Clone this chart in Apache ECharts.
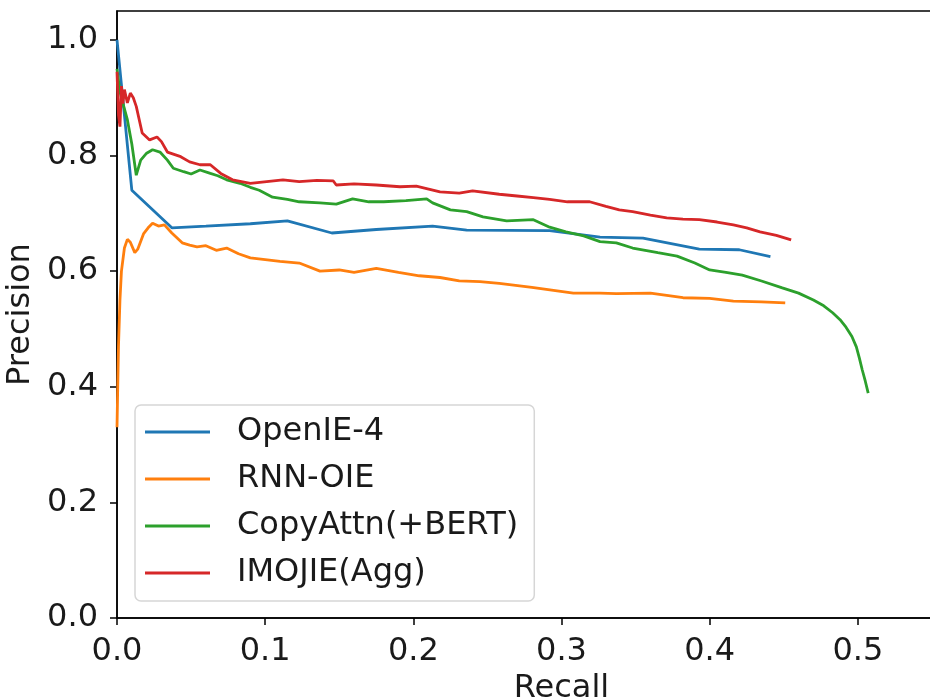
<!DOCTYPE html>
<html>
<head>
<meta charset="utf-8">
<script src="https://cdn.jsdelivr.net/npm/echarts@6/dist/echarts.min.js"></script>
<style>
  html, body { margin: 0; padding: 0; background: #fff; }
  #chart { width: 930px; height: 698px; }
</style>
</head>
<body>
<div id="chart"></div>
<script>
  // series names
  var seriesNames = ['OpenIE-4', 'RNN-OIE', 'CopyAttn(+BERT)', 'IMOJIE(Agg)'];

  // OpenIE-4
  var openieRecall = [0, 0.010, 0.037, 0.06, 0.09, 0.115, 0.145, 0.175, 0.213, 0.236, 0.292, 0.326, 0.355, 0.393, 0.42, 0.441];
  var openiePrecision = [1.0, 0.74, 0.675, 0.678, 0.682, 0.687, 0.666, 0.672, 0.678, 0.671, 0.670, 0.659, 0.657, 0.638, 0.637, 0.625];

  // RNN-OIE
  var rnnRecall = [0, 0.001, 0.002, 0.003, 0.005, 0.007, 0.009, 0.012, 0.014, 0.018, 0.021, 0.024, 0.028, 0.032, 0.037, 0.044, 0.049, 0.054, 0.060, 0.067, 0.074, 0.082, 0.09, 0.1, 0.11, 0.123, 0.137, 0.15, 0.16, 0.175, 0.19, 0.204, 0.218, 0.231, 0.245, 0.258, 0.28, 0.308, 0.326, 0.337, 0.36, 0.382, 0.4, 0.416, 0.435, 0.451];
  var rnnPrecision = [0.33, 0.47, 0.55, 0.60, 0.64, 0.655, 0.65, 0.632, 0.638, 0.665, 0.675, 0.683, 0.678, 0.68, 0.666, 0.649, 0.645, 0.642, 0.644, 0.636, 0.64, 0.63, 0.623, 0.62, 0.617, 0.614, 0.60, 0.602, 0.598, 0.605, 0.598, 0.592, 0.589, 0.583, 0.582, 0.579, 0.572, 0.562, 0.562, 0.561, 0.562, 0.554, 0.553, 0.548, 0.547, 0.545];

  // CopyAttn(+BERT)
  var copyRecall = [0, 0.002, 0.004, 0.007, 0.01, 0.013, 0.016, 0.02, 0.024, 0.029, 0.034, 0.038, 0.045, 0.05, 0.056, 0.063, 0.068, 0.074, 0.083, 0.09, 0.096, 0.105, 0.115, 0.123, 0.137, 0.148, 0.159, 0.17, 0.18, 0.195, 0.209, 0.213, 0.225, 0.236, 0.247, 0.263, 0.281, 0.292, 0.303, 0.315, 0.326, 0.337, 0.348, 0.365, 0.378, 0.39, 0.4, 0.411, 0.422, 0.435, 0.449, 0.46, 0.47, 0.477, 0.483, 0.488, 0.492, 0.496, 0.499, 0.501, 0.503, 0.505, 0.507];
  var copyPrecision = [0.95, 0.91, 0.89, 0.862, 0.82, 0.766, 0.792, 0.804, 0.81, 0.806, 0.792, 0.778, 0.772, 0.768, 0.775, 0.769, 0.765, 0.758, 0.752, 0.745, 0.74, 0.728, 0.724, 0.72, 0.718, 0.716, 0.725, 0.72, 0.72, 0.722, 0.725, 0.718, 0.706, 0.703, 0.694, 0.687, 0.689, 0.676, 0.668, 0.661, 0.651, 0.649, 0.64, 0.632, 0.626, 0.614, 0.602, 0.598, 0.593, 0.583, 0.571, 0.562, 0.55, 0.54, 0.528, 0.516, 0.503, 0.487, 0.469, 0.45, 0.429, 0.41, 0.389];

  // IMOJIE(Agg)
  var imojieRecall = [0, 0.001, 0.002, 0.003, 0.004, 0.005, 0.007, 0.009, 0.011, 0.013, 0.017, 0.022, 0.027, 0.03, 0.034, 0.043, 0.049, 0.056, 0.063, 0.07, 0.078, 0.09, 0.101, 0.112, 0.123, 0.135, 0.146, 0.148, 0.16, 0.175, 0.191, 0.202, 0.218, 0.231, 0.24, 0.258, 0.27, 0.281, 0.292, 0.304, 0.319, 0.33, 0.339, 0.348, 0.36, 0.371, 0.382, 0.393, 0.405, 0.416, 0.425, 0.434, 0.445, 0.455];
  var imojiePrecision = [0.945, 0.87, 0.85, 0.92, 0.89, 0.914, 0.891, 0.908, 0.9, 0.885, 0.839, 0.827, 0.832, 0.824, 0.806, 0.798, 0.789, 0.784, 0.784, 0.769, 0.758, 0.752, 0.755, 0.758, 0.755, 0.757, 0.756, 0.749, 0.751, 0.749, 0.746, 0.747, 0.737, 0.735, 0.739, 0.733, 0.73, 0.727, 0.724, 0.72, 0.72, 0.712, 0.706, 0.703, 0.697, 0.692, 0.69, 0.689, 0.685, 0.68, 0.675, 0.668, 0.662, 0.654];

  var colors = ['#1f77b4', '#ff7f0e', '#2ca02c', '#d62728'];

  function pairs(xs, ys) {
    var out = [];
    for (var i = 0; i < xs.length; i++) out.push([xs[i], ys[i]]);
    return out;
  }

  var allData = [
    pairs(openieRecall, openiePrecision),
    pairs(rnnRecall, rnnPrecision),
    pairs(copyRecall, copyPrecision),
    pairs(imojieRecall, imojiePrecision)
  ];

  var font = 'DejaVu Sans';
  var myChart = echarts.init(document.getElementById('chart'));
  myChart.setOption({
    animation: false,
    color: colors,
    grid: {
      left: 117,
      top: 11,
      width: 889,   // x axis runs past the right edge of the picture
      height: 607,
      outerBoundsMode: 'none',
      show: true,
      borderColor: '#000',
      borderWidth: 1.5,
      backgroundColor: '#fff'
    },
    legend: {
      orient: 'vertical',
      left: 135,
      top: 405,
      data: seriesNames,
      icon: 'rect',
      itemWidth: 65,
      itemHeight: 3,
      itemGap: 15,
      padding: [11, 16, 12, 10],
      backgroundColor: 'rgba(255,255,255,0.8)',
      borderColor: '#d6d6d6',
      borderWidth: 1.5,
      borderRadius: 6,
      textStyle: {
        fontFamily: font,
        fontSize: 32,
        color: '#1a1a1a',
        padding: [0, 0, 0, 22]
      }
    },
    xAxis: {
      type: 'value',
      min: 0,
      max: 0.6,
      interval: 0.1,
      name: 'Recall',
      nameLocation: 'middle',
      nameGap: 52,
      nameTextStyle: { fontFamily: font, fontSize: 32, color: '#1a1a1a' },
      axisLine: { lineStyle: { color: '#000', width: 1.5 } },
      axisTick: { show: true, length: 7, lineStyle: { color: '#000', width: 1.5 } },
      axisLabel: {
        fontFamily: font, fontSize: 32, color: '#1a1a1a', margin: 18,
        formatter: function (v) { return v.toFixed(1); }
      },
      splitLine: { show: false }
    },
    yAxis: {
      type: 'value',
      min: 0,
      max: 1.05,
      interval: 0.2,
      name: 'Precision',
      nameLocation: 'middle',
      nameGap: 69,
      nameTextStyle: { fontFamily: font, fontSize: 32, color: '#1a1a1a' },
      axisLine: { lineStyle: { color: '#000', width: 1.5 } },
      axisTick: { show: true, length: 7, lineStyle: { color: '#000', width: 1.5 } },
      axisLabel: {
        fontFamily: font, fontSize: 32, color: '#1a1a1a', margin: 19,
        formatter: function (v) { return v.toFixed(1); }
      },
      splitLine: { show: false }
    },
    series: seriesNames.map(function (name, i) {
      return {
        name: name,
        type: 'line',
        data: allData[i],
        showSymbol: false,
        symbol: 'none',
        lineStyle: { width: 2.8, color: colors[i] },
        itemStyle: { color: colors[i] }
      };
    })
  });
</script>
</body>
</html>
